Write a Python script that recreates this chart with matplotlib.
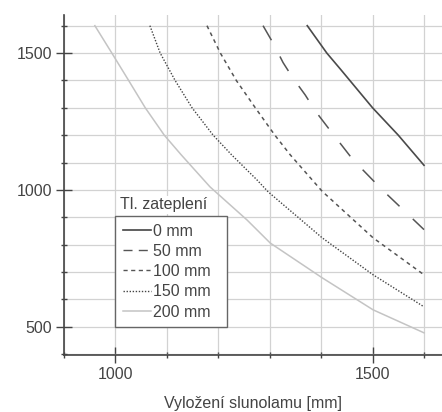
import numpy as np
import matplotlib.pyplot as plt
from matplotlib.ticker import MultipleLocator
from matplotlib.lines import Line2D

plt.rcParams['font.family'] = ['Liberation Sans', 'DejaVu Sans']

# vylozeni slunolamu [mm] vs. hodnota na svisle ose, pro ruzne tloustky zatepleni
x0 = [1373, 1411, 1438, 1500, 1550, 1600]
y0 = [1600, 1500, 1440, 1300, 1200, 1090]
x50 = [1287, 1307, 1326, 1345, 1369, 1390, 1414, 1462, 1519, 1600]
y50 = [1600, 1535, 1465, 1409, 1347, 1285, 1226, 1110, 1000, 855]
x100 = [1178, 1204, 1235, 1272, 1310, 1340, 1402, 1501, 1600]
y100 = [1600, 1500, 1400, 1300, 1200, 1128, 995, 825, 690]
x150 = [1067, 1087, 1116, 1149, 1190, 1226, 1275, 1297, 1402, 1501, 1600]
y150 = [1600, 1500, 1400, 1300, 1200, 1128, 1037, 993, 825, 690, 573]
x200 = [960, 993, 1024, 1058, 1095, 1128, 1184, 1256, 1301, 1402, 1501, 1600]
y200 = [1600, 1500, 1405, 1300, 1200, 1128, 1011, 890, 806, 679, 562, 478]
labels = ['0 mm', '50 mm', '100 mm', '150 mm', '200 mm']

fig = plt.figure(figsize=(4.42, 4.12), dpi=100)
ax = fig.add_axes([64/442, 57/412, 1 - 64/442, (355-15)/412])

ax.plot(x0, y0, color='#4a4a4a', lw=1.2)
ax.plot(x50, y50, color='#555555', lw=1.1, dashes=(11, 12))
ax.plot(x100, y100, color='#555555', lw=1.1, dashes=(2.5, 2.5))
ax.plot(x150, y150, color='#444444', lw=1.0, dashes=(1, 1.2))
ax.plot(x200, y200, color='#c4c4c4', lw=1.1)

ax.set_xlim(900, 1635)
ax.set_ylim(397, 1639)
ax.xaxis.set_major_locator(MultipleLocator(500))
ax.xaxis.set_minor_locator(MultipleLocator(100))
ax.yaxis.set_major_locator(MultipleLocator(500))
ax.yaxis.set_minor_locator(MultipleLocator(100))
ax.grid(True, which='both', color='#d2d2d2', lw=0.9)
ax.set_axisbelow(True)
for s in ['top', 'right']:
    ax.spines[s].set_visible(False)
for s in ['left', 'bottom']:
    ax.spines[s].set_color('#444444')
    ax.spines[s].set_linewidth(1.2)
ax.tick_params(which='major', direction='inout', length=11, width=1, color='#444444',
               labelsize=11.5, labelcolor='#444444', pad=3)
ax.tick_params(which='minor', direction='inout', length=4, width=1, color='#444444')
ax.set_xlabel('Vyložení slunolamu [mm]', fontsize=11.5, color='#444444', labelpad=10)

handles = [
    Line2D([], [], color='#444444', lw=1.2),
    Line2D([], [], color='#555555', lw=1.0, dashes=(6.5, 4.5)),
    Line2D([], [], color='#555555', lw=1.0, dashes=(3, 2.5)),
    Line2D([], [], color='#444444', lw=1.0, dashes=(1, 1.2)),
    Line2D([], [], color='#c4c4c4', lw=1.1),
]
leg = ax.legend(handles, labels, loc='lower left', bbox_to_anchor=(1000, 500, 217, 0),
                bbox_transform=ax.transData, mode='expand', borderaxespad=0,
                fancybox=False, framealpha=1, edgecolor='#666666', fontsize=11.5,
                handlelength=1.75, handletextpad=0.15, labelspacing=0.33, borderpad=0.45)
for t in leg.get_texts():
    t.set_color('#444444')
leg.get_frame().set_linewidth(1.0)
ax.text(1008, 945, 'Tl. zateplení', fontsize=11.5, color='#444444', va='center', ha='left',
        bbox=dict(facecolor='white', edgecolor='none', pad=1))

plt.savefig('out.png', dpi=100)
